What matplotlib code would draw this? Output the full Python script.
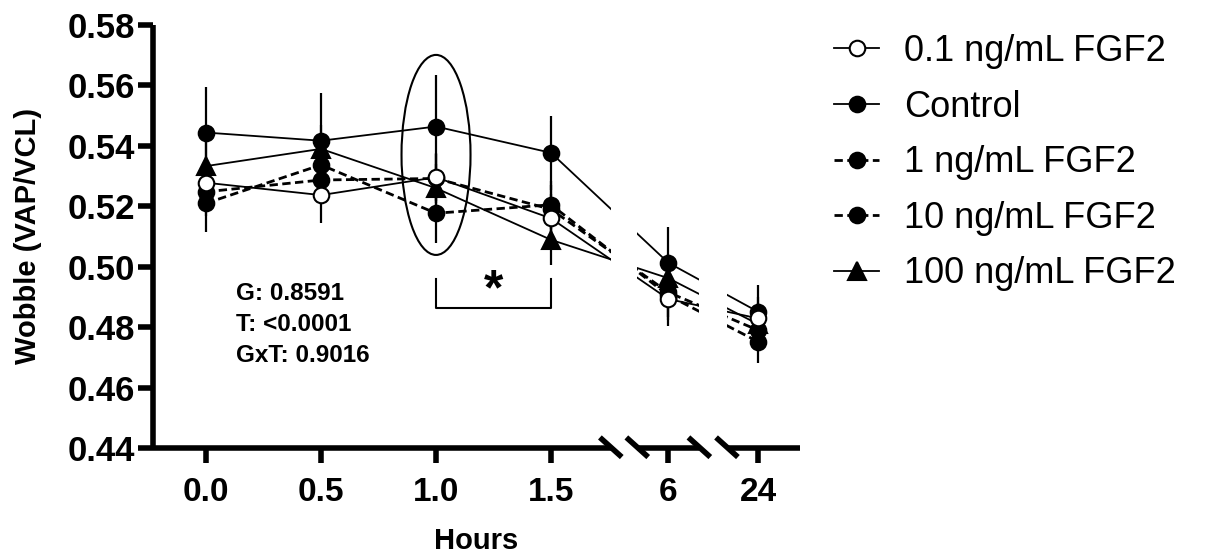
import matplotlib
matplotlib.use("Agg")
import matplotlib.pyplot as plt
from matplotlib.lines import Line2D
from matplotlib.patches import Ellipse
import numpy as np

plt.rcParams['font.family'] = ['Liberation Sans', 'DejaVu Sans']

# ---------------- data ----------------
hour_labels = ["0.0", "0.5", "1.0", "1.5", "6", "24"]
series_names = ["0.1 ng/mL FGF2", "Control", "1 ng/mL FGF2", "10 ng/mL FGF2", "100 ng/mL FGF2"]

fgf_01 = [0.5278, 0.5237, 0.5296, 0.5160, 0.4893, 0.4829]
control = [0.5444, 0.5417, 0.5464, 0.5377, 0.5013, 0.4851]
fgf_1 = [0.5248, 0.5287, 0.5292, 0.5190, 0.4915, 0.4790]
fgf_10 = [0.5210, 0.5337, 0.5177, 0.5205, 0.4905, 0.4752]
fgf_100 = [0.5333, 0.5390, 0.5260, 0.5089, 0.4962, 0.4810]

sem_01 = [0.0080, 0.0091, 0.0080, 0.0080, 0.0089, 0.0070]
sem_control = [0.0152, 0.0157, 0.0171, 0.0123, 0.0120, 0.0089]
sem_1 = [0.0080, 0.0020, 0.0080, 0.0080, 0.0080, 0.0070]
sem_10 = [0.0096, 0.0060, 0.0099, 0.0080, 0.0080, 0.0072]
sem_100 = [0.0080, 0.0080, 0.0080, 0.0083, 0.0080, 0.0070]

stats_lines = ["G: 0.8591", "T: <0.0001", "GxT: 0.9016"]

# ---------------- layout ----------------
x_pos = np.array([0, 1, 2, 3, 4.02, 4.80])   # broken-axis positions for categories
gaps = [(3.52, 3.75), (4.29, 4.53)]
xlim = (-0.461, 5.165)
ylim = (0.44, 0.58)

fig = plt.figure(figsize=(12.17, 5.57), dpi=100)
ax = fig.add_axes([153/1217, 1-448/557, (800-153)/1217, (448-25)/557])
ax.set_xlim(*xlim)
ax.set_ylim(*ylim)

styles = [
    dict(y=fgf_01, e=sem_01, ls='-', lw=1.3, marker='o', mfc='white', ms=11.2, mz=3.6),
    dict(y=control, e=sem_control, ls='-', lw=1.3, marker='o', mfc='black', ms=11.2, mz=3.0),
    dict(y=fgf_1, e=sem_1, ls=(0, (3.0, 1.6)), lw=2.0, marker='o', mfc='black', ms=11.2, mz=3.1),
    dict(y=fgf_10, e=sem_10, ls=(0, (3.0, 1.6)), lw=2.0, marker='o', mfc='black', ms=11.2, mz=3.2),
    dict(y=fgf_100, e=sem_100, ls='-', lw=1.3, marker='^', mfc='black', ms=12.5, mz=3.3),
]

for s in styles:
    ax.plot(x_pos, s['y'], color='black', ls=s['ls'], lw=s['lw'], zorder=2, solid_capstyle='butt')
for g in gaps:
    ax.axvspan(g[0], g[1], color='white', lw=0, zorder=2.5)
for s in styles:
    ax.errorbar(x_pos, s['y'], yerr=s['e'], fmt='none', ecolor='black', elinewidth=1.6,
                capsize=0, zorder=2.8)
for s in styles:
    ax.plot(x_pos, s['y'], ls='none', marker=s['marker'], ms=s['ms'], mfc=s['mfc'],
            mec='black', mew=1.5, zorder=s['mz'])

# ---------------- axes ----------------
for sp in ['top', 'right', 'bottom']:
    ax.spines[sp].set_visible(False)
ax.spines['left'].set_linewidth(4)
ax.spines['left'].set_capstyle('butt')

axis_lw = 4
segs = [(xlim[0], gaps[0][0]), (gaps[0][1], gaps[1][0]), (gaps[1][1], xlim[1])]
for a, b in segs:
    ax.plot([a, b], [ylim[0], ylim[0]], color='black', lw=axis_lw, clip_on=False, zorder=5,
            solid_capstyle='butt')
for g in gaps:
    for xc in g:
        ax.plot([xc - 0.095, xc + 0.095], [ylim[0] + 0.0035, ylim[0] - 0.0030], color='black',
                lw=4, clip_on=False, zorder=5, solid_capstyle='butt')

ax.set_xticks(x_pos)
ax.set_xticklabels(hour_labels)
ax.set_yticks(np.arange(0.44, 0.5801, 0.02))
ax.set_yticklabels([f"{v:.2f}" for v in np.arange(0.44, 0.5801, 0.02)])
ax.tick_params(axis='x', length=11, width=4, pad=10, labelsize=24)
ax.tick_params(axis='y', length=11, width=4, pad=2, labelsize=25)
for lab in ax.get_xticklabels() + ax.get_yticklabels():
    lab.set_fontweight('bold')

fig.text(28/1217, 1-236/557, "Wobble (VAP/VCL)", rotation=90, ha='center', va='center',
         fontsize=21, fontweight='bold')
fig.text(476/1217, 1-541/557, "Hours", ha='center', va='center', fontsize=21, fontweight='bold')

# ---------------- annotations ----------------
for i, t in enumerate(stats_lines):
    ax.text(0.26, 0.4913 - i*0.0103, t, fontsize=17.5, fontweight='bold', ha='left', va='center')

ax.add_patch(Ellipse((2, 0.537), width=0.6, height=0.0662, fill=False, lw=1.5, color='black',
                     zorder=4))
ax.plot([2, 2, 3, 3], [0.4959, 0.4863, 0.4863, 0.4959], color='black', lw=1.5, zorder=4)
ax.text(2.5, 0.4875, "*", fontsize=36, fontweight='bold', ha='center', va='baseline')

# ---------------- legend ----------------
handles = []
for s, name in zip(styles, series_names):
    handles.append(Line2D([], [], color='black', ls=s['ls'], lw=s['lw'], marker=s['marker'],
                          ms=s['ms'], mfc=s['mfc'], mec='black', mew=1.5))
fig.legend(handles, series_names, loc='upper left', bbox_to_anchor=(834/1217, 1-34/557),
           frameon=False, fontsize=26, handlelength=1.25, handletextpad=0.7,
           labelspacing=0.57, borderpad=0, borderaxespad=0)

fig.savefig("out.png", dpi=100)
